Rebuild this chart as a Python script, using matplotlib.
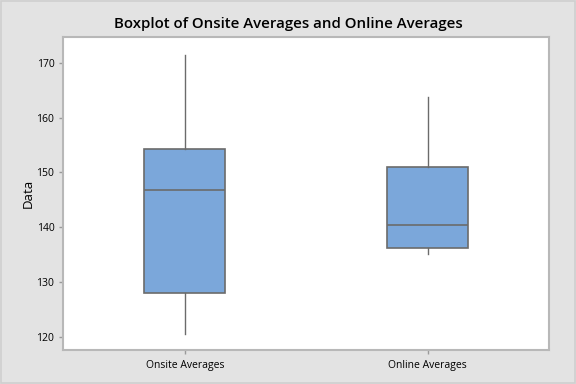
import matplotlib
matplotlib.use("Agg")
import matplotlib.pyplot as plt
from matplotlib.patches import Rectangle

# box stats
groups = ["Onsite Averages", "Online Averages"]
whislo = [120.6, 135.1]
q1 = [128.0, 136.2]
med = [146.8, 140.5]
q3 = [154.3, 151.0]
whishi = [171.4, 163.8]

plt.rcParams['font.family'] = ['Open Sans', 'DejaVu Sans']

fig = plt.figure(figsize=(5.76, 3.84), dpi=100)
fig.patch.set_facecolor('#e3e3e3')
ax = fig.add_axes([0.110, 0.0885, 0.843, 0.8145])
ax.set_facecolor('white')

stats = []
for i in range(len(groups)):
    stats.append({'label': groups[i], 'whislo': whislo[i], 'q1': q1[i], 'med': med[i],
                  'q3': q3[i], 'whishi': whishi[i], 'fliers': []})

edge = '#6b6b6b'
ax.bxp(stats, positions=[1, 2], widths=0.334, patch_artist=True, showcaps=False,
       boxprops=dict(facecolor='#7ba7da', edgecolor=edge, linewidth=1.2),
       medianprops=dict(color=edge, linewidth=1.2),
       whiskerprops=dict(color=edge, linewidth=1.0))

ax.set_xlim(0.5, 2.5)
ax.set_ylim(117.7, 174.6)
ax.set_yticks([120, 130, 140, 150, 160, 170])
ax.tick_params(axis='both', labelsize=7.5, color='#9a9a9a', length=3, width=1)
ax.tick_params(axis='x', pad=4)
for s in ax.spines.values():
    s.set_color('#b8b8b8')
    s.set_linewidth(1.5)
ax.set_ylabel("Data", fontsize=9.5, fontweight='medium', labelpad=1)
fig.suptitle("Boxplot of Onsite Averages and Online Averages", fontsize=10.8,
             fontweight='semibold', y=0.957)

# outer frame like the original
fig.patches.append(Rectangle((0.001, 0.002), 0.997, 0.995, transform=fig.transFigure,
                             fill=False, edgecolor='#cfcfcf', linewidth=1.2))

fig.savefig("out.png", dpi=100, facecolor=fig.get_facecolor())
